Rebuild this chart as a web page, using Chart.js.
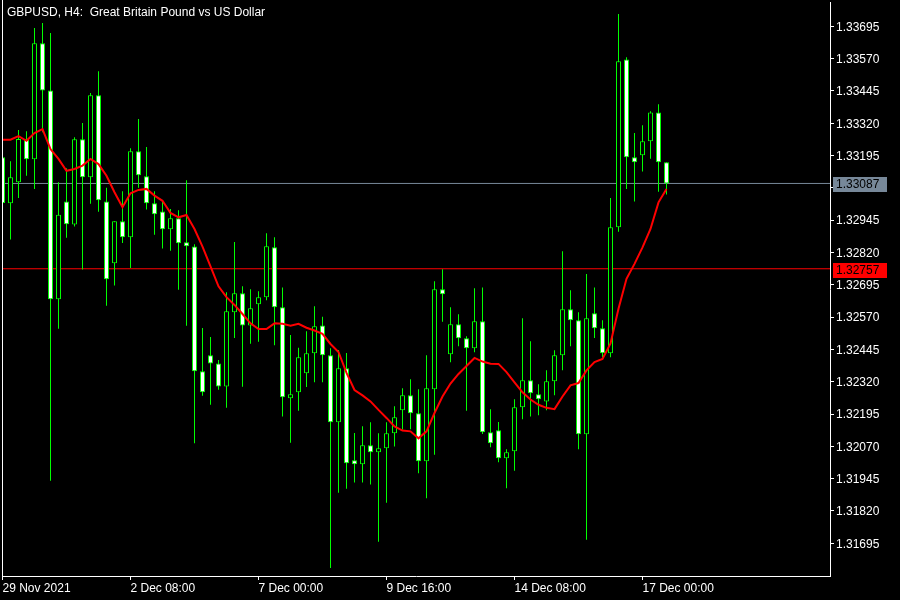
<!DOCTYPE html>
<html><head><meta charset="utf-8">
<script src="https://cdn.jsdelivr.net/npm/chart.js@4.4.0/dist/chart.umd.min.js"></script>
<style>html,body{margin:0;padding:0;background:#000;}canvas{display:block;}</style>
</head><body>
<canvas id="c" width="900" height="600"></canvas>
<script>
const chartTitle = 'GBPUSD, H4:  Great Britain Pound vs US Dollar';

const opens = [1.33188,1.33010,1.33092,1.33259,1.33181,1.33629,1.33447,1.32639,1.33017,1.32928,
1.33258,1.33111,1.33428,1.33017,1.32778,1.32941,1.32879,1.33212,1.33115,1.33010,
1.32979,1.32910,1.32952,1.32860,1.32843,1.32361,1.32422,1.32391,1.32302,1.32589,
1.32662,1.32538,1.32620,1.32647,1.32840,1.32608,1.32256,1.32279,1.32353,1.32430,
1.32538,1.32422,1.32163,1.32372,1.32016,1.32001,1.32074,1.32047,1.32063,1.32121,
1.32210,1.32268,1.32198,1.32012,1.32291,1.32678,1.32426,1.32542,1.32488,1.32450,
1.32554,1.32125,1.32132,1.32024,1.32051,1.32221,1.32326,1.32272,1.32244,1.32322,
1.32422,1.32600,1.32558,1.32117,1.32585,1.32527,1.32430,1.32918,1.33567,1.33188,
1.33196,1.33250,1.33362,1.33169];

const highs = [1.33213,1.33173,1.33294,1.33289,1.33688,1.33708,1.33669,1.33092,1.33146,1.33266,
1.33321,1.33437,1.33521,1.33070,1.32941,1.33057,1.33223,1.33336,1.33228,1.33057,
1.33018,1.32988,1.32983,1.33099,1.32852,1.32528,1.32493,1.32404,1.32666,1.32861,
1.32689,1.32678,1.32670,1.32894,1.32879,1.32685,1.32501,1.32451,1.32515,1.32612,
1.32571,1.32450,1.32443,1.32431,1.32122,1.32148,1.32163,1.32121,1.32163,1.32225,
1.32295,1.32330,1.32291,1.32422,1.32709,1.32755,1.32608,1.32581,1.32496,1.32682,
1.32685,1.32214,1.32164,1.32059,1.32252,1.32566,1.32477,1.32310,1.32364,1.32442,
1.32825,1.32674,1.32589,1.32737,1.32685,1.32558,1.33031,1.33743,1.33575,1.33282,
1.33312,1.33366,1.33393,1.33169];

const lows = [1.32981,1.32870,1.33031,1.33117,1.33066,1.33285,1.31937,1.32525,1.32877,1.32921,
1.32754,1.33009,1.32978,1.32614,1.32692,1.32857,1.32760,1.33070,1.32986,1.32889,
1.32835,1.32827,1.32676,1.32537,1.32082,1.32266,1.32231,1.32289,1.32219,1.32489,
1.32301,1.32467,1.32475,1.32635,1.32461,1.32186,1.32084,1.32208,1.32300,1.32318,
1.32318,1.31599,1.31891,1.31906,1.31930,1.31930,1.31922,1.31701,1.31852,1.32069,
1.32135,1.32136,1.31966,1.31869,1.32038,1.32552,1.32395,1.32457,1.32208,1.32434,
1.32118,1.32067,1.32009,1.31908,1.31976,1.32175,1.32186,1.32190,1.32210,1.32268,
1.32364,1.32457,1.32059,1.31709,1.32489,1.32415,1.32415,1.32900,1.33066,1.33017,
1.33133,1.33183,1.33055,1.33044];

const closes = [1.33011,1.33111,1.33259,1.33181,1.33629,1.33447,1.32639,1.32966,1.32929,1.33258,
1.33111,1.33428,1.33022,1.32716,1.32941,1.32879,1.33212,1.33119,1.33010,1.32968,
1.32910,1.32952,1.32856,1.32844,1.32361,1.32279,1.32391,1.32302,1.32593,1.32662,
1.32538,1.32604,1.32647,1.32844,1.32608,1.32260,1.32272,1.32415,1.32430,1.32535,
1.32422,1.32163,1.32372,1.32005,1.32001,1.32074,1.32047,1.32063,1.32121,1.32183,
1.32268,1.32198,1.32012,1.32295,1.32678,1.32658,1.32542,1.32488,1.32450,1.32554,
1.32125,1.32082,1.32024,1.32047,1.32221,1.32326,1.32275,1.32252,1.32322,1.32422,
1.32600,1.32558,1.32117,1.32566,1.32527,1.32430,1.32918,1.33560,1.33188,1.33169,
1.33250,1.33362,1.33169,1.33087];

const maValues = [1.33256,1.33256,1.33270,1.33252,1.33282,1.33297,1.33220,1.33182,1.33136,1.33143,
1.33156,1.33182,1.33162,1.33117,1.33053,1.32995,1.33049,1.33062,1.33066,1.33040,
1.33020,1.32973,1.32956,1.32965,1.32911,1.32843,1.32766,1.32689,1.32647,1.32617,
1.32582,1.32546,1.32524,1.32524,1.32546,1.32544,1.32537,1.32544,1.32529,1.32518,
1.32505,1.32466,1.32435,1.32354,1.32288,1.32267,1.32244,1.32211,1.32180,1.32147,
1.32131,1.32128,1.32101,1.32128,1.32199,1.32263,1.32313,1.32350,1.32381,1.32412,
1.32398,1.32390,1.32389,1.32357,1.32318,1.32279,1.32251,1.32231,1.32219,1.32214,
1.32263,1.32306,1.32315,1.32364,1.32396,1.32408,1.32468,1.32602,1.32718,1.32776,
1.32840,1.32911,1.33014,1.33066];

const xTickIndex = [0, 16, 32, 48, 64, 80];
const xTickLabels = ['29 Nov 2021', '2 Dec 08:00', '7 Dec 00:00', '9 Dec 16:00', '14 Dec 08:00', '17 Dec 00:00'];
const yTickValues = [1.31695,1.31820,1.31945,1.32070,1.32195,1.32320,1.32445,1.32570,1.32695,
1.32820,1.32945,1.33070,1.33195,1.33320,1.33445,1.33570,1.33695];
const bidPrice = 1.33087;
const levelPrice = 1.32757;

const X_MIN = -0.0625, X_MAX = 103.4375;
const Y_MAX = 1.33789, Y_MIN = 1.315685;
const FONT = {family: 'Liberation Sans', size: 12};

const idx = opens.map((_, i) => i);
const isBull = idx.map(i => closes[i] >= opens[i]);

const overlayPlugin = {
  id: 'overlay',
  afterDraw(chart) {
    const ctx = chart.ctx;
    const a = chart.chartArea;
    const ys = chart.scales.y;
    ctx.save();
    ctx.strokeStyle = '#ffffff';
    ctx.lineWidth = 1;
    ctx.beginPath();
    ctx.moveTo(2.5, 0);
    ctx.lineTo(2.5, a.bottom + 4);
    ctx.stroke();
    ctx.fillStyle = '#ffffff';
    ctx.font = '12px "Liberation Sans"';
    ctx.textBaseline = 'alphabetic';
    ctx.textAlign = 'left';
    ctx.fillText(chartTitle, 7, 16);
    const tag = (price, bg) => {
      const y = Math.round(ys.getPixelForValue(price));
      ctx.fillStyle = bg;
      ctx.fillRect(833, y - 6, 54, 15);
      ctx.fillStyle = '#000000';
      ctx.textBaseline = 'middle';
      ctx.fillText(price.toFixed(5), 836, y + 1.5);
    };
    tag(bidPrice, '#778899');
    tag(levelPrice, '#ff0000');
    ctx.restore();
  }
};

const zeroPad = (s) => { s.paddingTop = 0; s.paddingBottom = 0; s.paddingLeft = 0; s.paddingRight = 0; };

new Chart(document.getElementById('c').getContext('2d'), {
  type: 'bar',
  data: {
    datasets: [
      { type: 'line', label: 'MA', data: idx.map(i => ({x: i, y: maValues[i]})),
        borderColor: '#ff0000', borderWidth: 2, pointRadius: 0, tension: 0, order: 0 },
      { type: 'bar', label: 'Bodies', data: idx.map(i => ({x: i, y: [opens[i], closes[i]]})),
        backgroundColor: idx.map(i => isBull[i] ? '#000000' : '#ffffff'),
        borderColor: '#00ff00', borderWidth: 1, borderSkipped: false,
        barThickness: 5, grouped: false, inflateAmount: 0, order: 1 },
      { type: 'bar', label: 'Wicks', data: idx.map(i => ({x: i, y: [lows[i], highs[i]]})),
        backgroundColor: '#00ff00', borderWidth: 0, barThickness: 1, grouped: false,
        inflateAmount: 0, order: 2 },
      { type: 'line', label: 'Bid', data: [{x: X_MIN, y: bidPrice}, {x: X_MAX, y: bidPrice}],
        borderColor: '#778899', borderWidth: 1, pointRadius: 0, order: 3 },
      { type: 'line', label: 'Level', data: [{x: X_MIN, y: levelPrice}, {x: X_MAX, y: levelPrice}],
        borderColor: '#ff0000', borderWidth: 1, pointRadius: 0, order: 3 }
    ]
  },
  options: {
    responsive: false,
    animation: false,
    devicePixelRatio: 1,
    layout: {padding: {left: 2, top: 2, right: 0, bottom: 0}, autoPadding: false},
    plugins: {legend: {display: false}, tooltip: {enabled: false}, title: {display: false}},
    scales: {
      x: {
        type: 'linear', min: X_MIN, max: X_MAX, position: 'bottom', offset: false,
        grid: {drawOnChartArea: false, color: '#ffffff', tickLength: 4, tickWidth: 1, offset: false},
        border: {color: '#ffffff', width: 1},
        ticks: {color: '#ffffff', font: FONT, align: 'start', padding: 1, maxRotation: 0,
          autoSkip: false,
          callback: (v) => { const k = xTickIndex.indexOf(v); return k >= 0 ? xTickLabels[k] : ''; }},
        afterBuildTicks: (s) => { s.ticks = xTickIndex.map(v => ({value: v})); },
        afterFit: (s) => { s.height = 24; zeroPad(s); }
      },
      y: {
        type: 'linear', min: Y_MIN, max: Y_MAX, position: 'right', offset: false,
        grid: {drawOnChartArea: false, color: '#ffffff', tickLength: 4, tickWidth: 1},
        border: {color: '#ffffff', width: 1},
        ticks: {color: '#ffffff', font: FONT, padding: 2, labelOffset: 1, autoSkip: false,
          callback: (v) => Number(v).toFixed(5)},
        afterBuildTicks: (s) => { s.ticks = yTickValues.map(v => ({value: v})); },
        afterFit: (s) => { s.width = 70; zeroPad(s); }
      }
    }
  },
  plugins: [overlayPlugin]
});
</script>
</body></html>
